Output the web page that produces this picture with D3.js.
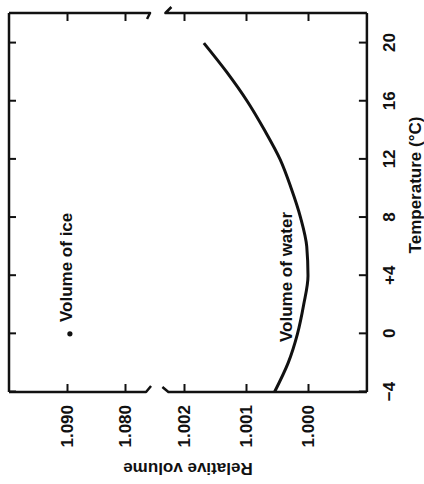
<!DOCTYPE html>
<html lang="en">
	<head>
		<meta charset="utf-8">
		<title>Relative volume of water and ice</title>
		<script type="text/javascript" src="https://cdn.jsdelivr.net/npm/d3@7"></script>
		<style>
			body { margin: 0; background: #ffffff; }
			text { font-family: "Liberation Sans", Arial, sans-serif; font-weight: bold; fill: #111; }
		</style>
	</head>
	<body>
		<script type="text/javascript">
			// Values.
			var temps = [-4, -2, 0, 2, 4, 6, 8, 10, 12, 14, 16, 18, 20];
			var waterVolume = [1.00054, 1.00032, 1.00017, 1.00007, 1.00000, 1.00002, 1.00012, 1.00027, 1.00045, 1.00070, 1.00098, 1.00131, 1.00168];
			var iceTemp = [0];
			var iceVolume = [1.0895];
			var tempTicks = [-4, 0, 4, 8, 12, 16, 20];
			var tempTickLabels = ["\u22124", "0", "+4", "8", "12", "16", "20"];
			var lowTicks = [1.000, 1.001, 1.002];
			var highTicks = [1.080, 1.090];

			var width = 424, height = 484;
			var svg = d3.select("body")
						.append("svg")
						.attr("width", width)
						.attr("height", height);
			svg.append("rect")
				.attr("width", width)
				.attr("height", height)
				.attr("fill", "#ffffff");

			// The page is printed on its side: draw the chart the usual way and turn it a quarter turn.
			var g = svg.append("g")
					   .attr("transform", "translate(0," + height + ") rotate(-90)");

			var x = d3.scaleLinear().domain([-4, 22.07]).range([92, 471]);
			var yLow = d3.scaleLinear().domain([1.000, 1.002]).range([308, 184]);
			var yHigh = d3.scaleLinear().domain([1.080, 1.090]).range([125, 67]);

			var u0 = x.range()[0], u1 = x.range()[1];
			var vTop = yHigh(1.100), vBreakA = yHigh(1.0762);
			var vBreakB = yLow(1.0023), vBot = yLow(0.99905);

			// frame with the broken volume axis
			var frame = d3.path();
			frame.moveTo(u0, vBot); frame.lineTo(u1, vBot);
			frame.moveTo(u0, vTop); frame.lineTo(u1, vTop);
			// left side (volume axis)
			frame.moveTo(u0, vTop); frame.lineTo(u0, vBreakA - 1); frame.lineTo(u0 + 6, vBreakA + 4);
			frame.moveTo(u0 + 5, vBreakB - 3); frame.lineTo(u0, vBreakB + 3); frame.lineTo(u0, vBot);
			// right side
			frame.moveTo(u1, vTop); frame.lineTo(u1, vBreakA + 3); frame.lineTo(u1 - 6, vBreakA);
			frame.moveTo(u1 + 6, vBreakB + 6); frame.lineTo(u1, vBreakB); frame.lineTo(u1, vBot);
			g.append("path")
				.attr("d", frame.toString())
				.attr("fill", "none")
				.attr("stroke", "#111")
				.attr("stroke-width", 2.5)
				.attr("stroke-linejoin", "round");

			// volume axis, two pieces
			var fmt = d3.format(".3f");
			[[yHigh, highTicks], [yLow, lowTicks]].forEach(function(p) {
				g.append("g")
					.attr("transform", "translate(" + u0 + ",0)")
					.call(d3.axisLeft(p[0]).tickValues(p[1]).tickFormat(fmt).tickSizeInner(-8).tickSizeOuter(0).tickPadding(13));
				g.append("g")
					.attr("transform", "translate(" + u1 + ",0)")
					.call(d3.axisRight(p[0]).tickValues(p[1]).tickFormat("").tickSizeInner(-8).tickSizeOuter(0));
			});

			// temperature axis
			g.append("g")
				.attr("transform", "translate(0," + vBot + ")")
				.call(d3.axisBottom(x).tickValues(tempTicks)
					.tickFormat(function(d, i) { return tempTickLabels[i]; })
					.tickSizeInner(-8).tickSizeOuter(0).tickPadding(16));
			g.append("g")
				.attr("transform", "translate(0," + vTop + ")")
				.call(d3.axisTop(x).tickValues(tempTicks).tickFormat("").tickSizeInner(-7).tickSizeOuter(0));

			g.selectAll(".domain").remove();
			g.selectAll(".tick line").attr("stroke", "#111").attr("stroke-width", 2);
			g.selectAll(".tick text")
				.style("font-size", "17px")
				.style("font-weight", "bold")
				.style("font-family", "'Liberation Sans', Arial, sans-serif")
				.attr("fill", "#111");

			// water curve
			var water = temps.map(function(t, i) { return { t: t, v: waterVolume[i] }; });
			var line = d3.line()
						 .x(function(d) { return x(d.t); })
						 .y(function(d) { return yLow(d.v); })
						 .curve(d3.curveMonotoneX);
			g.append("path")
				.datum(water)
				.attr("d", line)
				.attr("fill", "none")
				.attr("stroke", "#111")
				.attr("stroke-width", 3);

			// ice point
			g.selectAll("circle.ice")
				.data(iceTemp)
				.enter()
				.append("circle")
				.attr("class", "ice")
				.attr("cx", function(d) { return x(d); })
				.attr("cy", function(d, i) { return yHigh(iceVolume[i]); })
				.attr("r", 2.6)
				.attr("fill", "#111");

			// labels
			g.append("text")
				.attr("x", 162)
				.attr("y", 72)
				.attr("font-size", 17)
				.text("Volume of ice");
			g.append("text")
				.attr("x", 142)
				.attr("y", 292)
				.attr("font-size", 17)
				.text("Volume of water");
			g.append("text")
				.attr("x", 299)
				.attr("y", 421)
				.attr("font-size", 17)
				.attr("text-anchor", "middle")
				.text("Temperature (\u00B0C)");
			g.append("text")
				.attr("transform", "translate(21," + (vTop + vBot) / 2 + ") rotate(-90)")
				.attr("font-size", 17)
				.attr("text-anchor", "middle")
				.text("Relative volume");
		</script>
	</body>
</html>
